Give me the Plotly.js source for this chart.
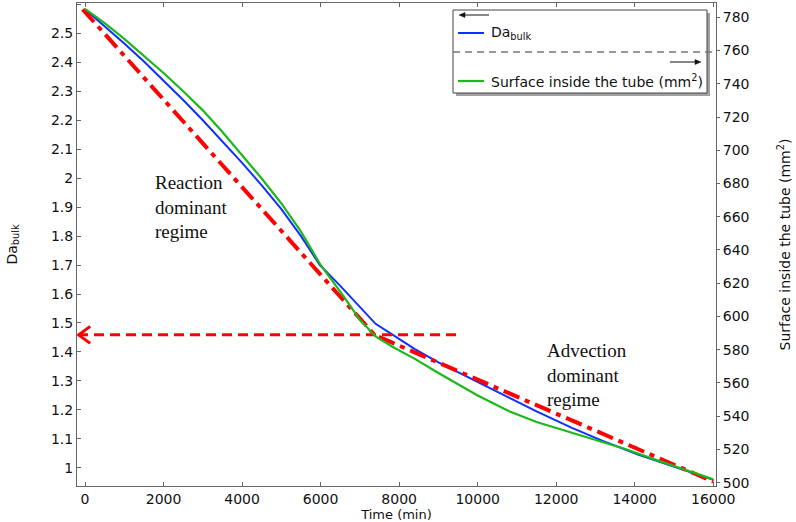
<!DOCTYPE html>
<html>
<head>
<meta charset="utf-8">
<script src="https://cdn.plot.ly/plotly-3.0.1.min.js"></script>
<style>
  html, body { margin: 0; padding: 0; background: #fff; }
  #chart { width: 796px; height: 522px; }
</style>
</head>
<body>
<div id="chart"></div>
<script>
// Da_bulk (left axis)
var daTime = [0, 500, 1000, 1500, 2000, 2500, 3000, 3500, 4000, 4500, 5000, 5500, 5980,
              6500, 7000, 7400, 7850, 8400, 9000, 9500, 10000, 10700, 11500, 12400,
              13200, 14100, 15000, 15800, 16000];
var daBulk = [2.583, 2.525, 2.465, 2.403, 2.338, 2.270, 2.200, 2.128, 2.053, 1.975, 1.893, 1.800, 1.700,
              1.628, 1.556, 1.497, 1.458, 1.410, 1.364, 1.330, 1.295, 1.247, 1.195, 1.138,
              1.092, 1.045, 1.003, 0.965, 0.958];

// surface inside the tube (right axis, mm2)
var surfTime = [0, 500, 1000, 1500, 2000, 2500, 3000, 3500, 4000, 4500, 5000, 5500, 6000,
                6500, 7000, 7400, 7850, 8400, 9000, 9500, 10000, 10800, 11500, 12400,
                13000, 13700, 14500, 15200, 16000];
var surface = [785, 776.5, 767, 757, 746.5, 735.5, 724, 711, 697, 683, 668, 651, 631,
               615, 598, 588, 581.5, 574.5, 566, 559.5, 552.5, 543, 536.5, 530,
               525.5, 520.7, 514, 508.5, 502];

// regime guide lines
var guideTime = [-60, 7380, 16000];
var guideDa = [2.583, 1.458, 0.952];
var levelTime = [-180, 9550];
var levelDa = [1.459, 1.459];

var xTicks = [0, 2000, 4000, 6000, 8000, 10000, 12000, 14000, 16000];
var seriesNames = ['Da<sub>bulk</sub>', 'Surface inside the tube (mm<sup>2</sup>)'];

// pixel -> paper helpers for the hand-made legend box
function px(x) { return (x - 77) / 639; }
function py(y) { return (486 - y) / 483; }

var traces = [
  {x: daTime, y: daBulk, name: seriesNames[0], type: 'scatter', mode: 'lines',
   line: {color: '#1030ff', width: 2}},
  {x: surfTime, y: surface, name: seriesNames[1], type: 'scatter', mode: 'lines', yaxis: 'y2',
   line: {color: '#1cb81c', width: 2.2}},
  {x: guideTime, y: guideDa, type: 'scatter', mode: 'lines',
   line: {color: '#ff0000', width: 4, dash: '17px,6px,5px,6px'}},
  {x: levelTime, y: levelDa, type: 'scatter', mode: 'lines',
   line: {color: '#ff0000', width: 3, dash: '10px,6px'}}
];

var axisFont = {family: 'DejaVu Sans', size: 14, color: '#111'};

// small arrow in the legend box, tip at (tipX, yy), tail at (tailX, yy)
function legendArrow(tipX, tailX, yy) {
  var dir = tailX > tipX ? 1 : -1;
  return [
    {type: 'line', xref: 'paper', yref: 'paper', layer: 'above',
     x0: px(tipX + dir * 4), x1: px(tailX), y0: py(yy), y1: py(yy), line: {color: '#111', width: 1}},
    {type: 'path', xref: 'paper', yref: 'paper', layer: 'above', fillcolor: '#111', line: {color: '#111', width: 0.5},
     path: 'M' + px(tipX) + ',' + py(yy) + ' L' + px(tipX + dir * 6) + ',' + py(yy - 2.5) +
           ' L' + px(tipX + dir * 6) + ',' + py(yy + 2.5) + ' Z'}
  ];
}

var shapes = [
  {type: 'rect', xref: 'paper', yref: 'paper', layer: 'above',
   x0: px(456), x1: px(710), y0: py(96), y1: py(13), fillcolor: '#a0a0a0', line: {width: 0}},
  {type: 'rect', xref: 'paper', yref: 'paper', layer: 'above',
   x0: px(453), x1: px(707), y0: py(93), y1: py(10), fillcolor: '#fff', line: {color: '#444', width: 1}},
  {type: 'line', xref: 'paper', yref: 'paper', layer: 'above',
   x0: px(458), x1: px(484), y0: py(33), y1: py(33), line: {color: '#1030ff', width: 2}},
  {type: 'line', xref: 'paper', yref: 'paper', layer: 'above',
   x0: px(453), x1: px(716), y0: py(52), y1: py(52), line: {color: '#777', width: 1.3, dash: '7px,5px'}},
  {type: 'line', xref: 'paper', yref: 'paper', layer: 'above',
   x0: px(458), x1: px(484), y0: py(81), y1: py(81), line: {color: '#1cb81c', width: 2.2}},
  // open arrow head at the left end of the level line
  {type: 'path', xref: 'x', yref: 'y', xsizemode: 'pixel', ysizemode: 'pixel',
   xanchor: levelTime[0] - 20, yanchor: levelDa[0], layer: 'above',
   path: 'M 13,8.5 L 1.5,0 L 13,-8.5', line: {color: '#ff0000', width: 3}}
].concat(legendArrow(459, 489, 15), legendArrow(701, 670, 62));

var layout = {
  width: 796, height: 522,
  margin: {l: 77, r: 80, t: 3, b: 36},
  paper_bgcolor: '#fff', plot_bgcolor: '#fff',
  showlegend: false,
  font: {family: 'DejaVu Sans', size: 14, color: '#111'},
  xaxis: {
    range: [-205, 16070], tickvals: xTicks, tickformat: 'd', ticks: 'inside', ticklen: 4,
    tickcolor: '#666', showline: true, linecolor: '#666', mirror: 'ticks',
    showgrid: false, zeroline: false, tickfont: axisFont,
    title: {text: 'Time (min)', font: {size: 13}, standoff: 4}
  },
  yaxis: {
    range: [0.937, 2.605], dtick: 0.1, tick0: 1, ticks: 'inside', ticklen: 4,
    tickcolor: '#666', showline: true, linecolor: '#666',
    showgrid: false, zeroline: false, tickfont: axisFont,
    title: {text: 'Da<sub>bulk</sub>', font: {size: 14}, standoff: 30}
  },
  yaxis2: {
    range: [498.0, 788.6], dtick: 20, tick0: 500, overlaying: 'y', side: 'right',
    ticks: 'outside', ticklen: 3, tickcolor: '#666', showline: true, linecolor: '#666',
    showgrid: false, zeroline: false, tickfont: axisFont,
    title: {text: 'Surface inside the tube (mm<sup>2</sup>)', font: {size: 14}, standoff: 31}
  },
  shapes: shapes,
  annotations: [
    {x: 1725, y: 2.028, xref: 'x', yref: 'y', xanchor: 'left', yanchor: 'top', align: 'left',
     text: 'Reaction<br>dominant<br>regime', showarrow: false,
     font: {family: 'Liberation Serif', size: 19, color: '#111'}},
    {x: 11720, y: 1.447, xref: 'x', yref: 'y', xanchor: 'left', yanchor: 'top', align: 'left',
     text: 'Advection<br>dominant<br>regime', showarrow: false,
     font: {family: 'Liberation Serif', size: 19, color: '#111'}},
    {x: px(489), y: py(33), xref: 'paper', yref: 'paper', xanchor: 'left', yanchor: 'middle',
     text: seriesNames[0], showarrow: false, font: {size: 14}},
    {x: px(489), y: py(81), xref: 'paper', yref: 'paper', xanchor: 'left', yanchor: 'middle',
     text: seriesNames[1], showarrow: false, font: {size: 14}}
  ]
};

Plotly.newPlot('chart', traces, layout, {displayModeBar: false, staticPlot: true});
</script>
</body>
</html>
